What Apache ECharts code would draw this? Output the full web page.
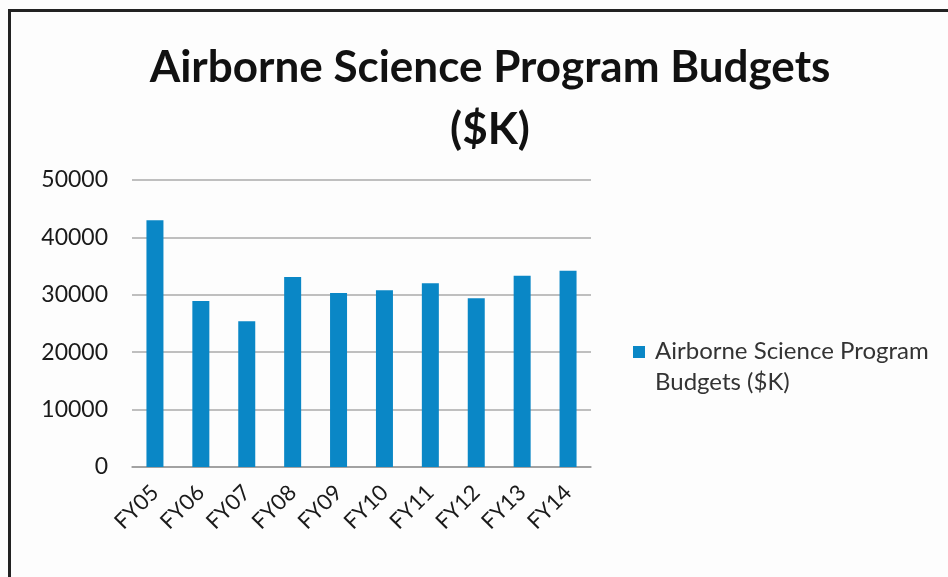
<!DOCTYPE html>
<html>
<head>
<meta charset="utf-8">
<script src="https://cdn.jsdelivr.net/npm/echarts@6/dist/echarts.min.js"></script>
<style>
  html, body { margin: 0; padding: 0; background: #fdfdfd; }
  #main { width: 948px; height: 577px; }
</style>
</head>
<body>
<div id="main"></div>
<script>
// data
var categories = ['FY05', 'FY06', 'FY07', 'FY08', 'FY09', 'FY10', 'FY11', 'FY12', 'FY13', 'FY14'];
var budgets = [43000, 28900, 25400, 33100, 30300, 30800, 32000, 29400, 33300, 34200];
var seriesName = 'Airborne Science Program Budgets ($K)';

var chart = echarts.init(document.getElementById('main'));

var option = {
  backgroundColor: '#fdfdfd',
  textStyle: { fontFamily: 'Lato' },
  title: {
    text: 'Airborne Science Program Budgets\n($K)',
    left: 485,
    top: 32,
    textAlign: 'center',
    textStyle: {
      fontFamily: 'Lato',
      fontWeight: 'bold',
      fontSize: 44,
      lineHeight: 62,
      color: '#111'
    }
  },
  legend: {
    orient: 'vertical',
    left: 633,
    top: 336,
    padding: 0,
    itemWidth: 17,
    itemHeight: 42,
    // square sits at the top so it lines up with the first text line
    icon: 'path://M0,0H12V12H0Z M17,42H17.01V42.01Z',
    data: [seriesName],
    formatter: function () {
      return 'Airborne Science Program\nBudgets ($K)';
    },
    textStyle: { fontSize: 24, lineHeight: 31, color: '#333', fontFamily: 'Lato' }
  },
  grid: {
    left: 132,
    right: 357,
    top: 180,
    bottom: 110
  },
  xAxis: {
    type: 'category',
    data: categories,
    axisTick: { show: false },
    axisLine: { lineStyle: { color: '#999', width: 1.5 } },
    axisLabel: {
      rotate: 45,
      fontSize: 22,
      color: '#1a1a1a',
      margin: 22,
      interval: 0
    }
  },
  yAxis: {
    type: 'value',
    min: 0,
    max: 50000,
    interval: 10000,
    axisLine: { show: false },
    axisTick: { show: false },
    axisLabel: {
      fontSize: 23,
      color: '#1a1a1a',
      margin: 24,
      formatter: function (v) { return String(v); }
    },
    splitLine: { lineStyle: { color: '#aaa', width: 1.5 } }
  },
  series: [
    {
      name: seriesName,
      type: 'bar',
      data: budgets,
      barWidth: 17,
      itemStyle: { color: '#0a87c6' }
    }
  ],
  graphic: [
    // dark frame on the left and top edges
    { type: 'rect', shape: { x: 8, y: 9, width: 940, height: 3 }, style: { fill: '#222' } },
    { type: 'rect', shape: { x: 8, y: 9, width: 3, height: 568 }, style: { fill: '#222' } }
  ]
};

chart.setOption(option);
</script>
</body>
</html>
